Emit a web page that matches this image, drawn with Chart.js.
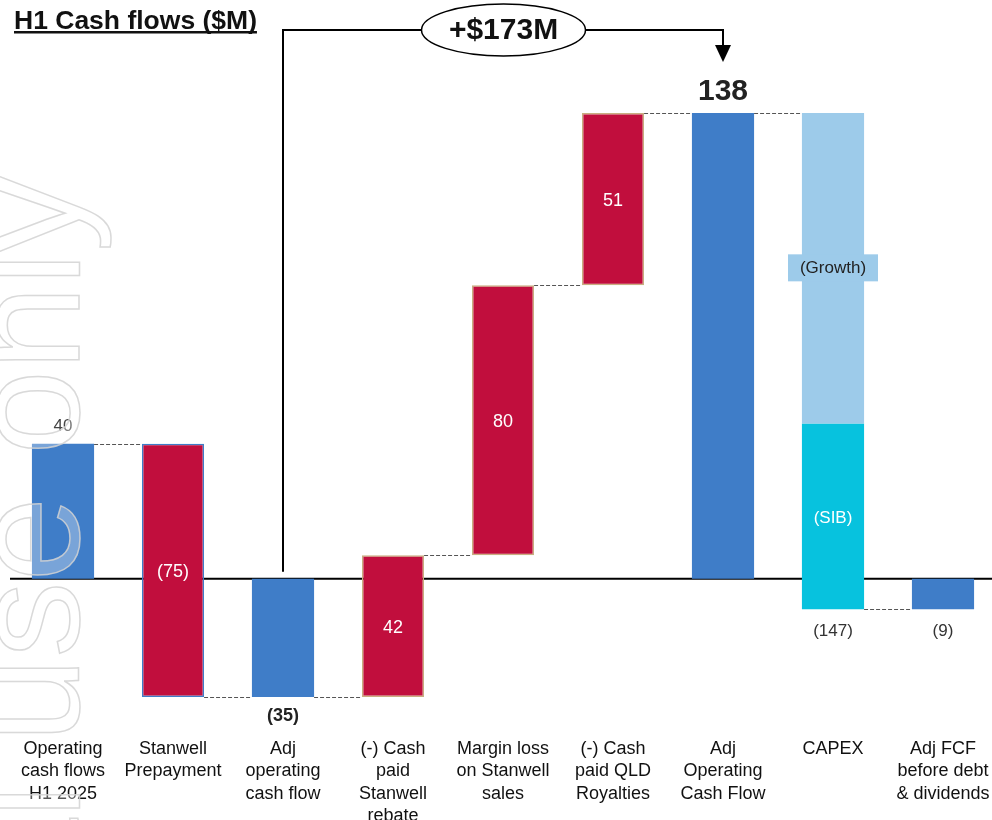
<!DOCTYPE html>
<html>
<head>
<meta charset="utf-8">
<script src="https://cdn.jsdelivr.net/npm/chart.js@4"></script>
<style>
  html, body { margin: 0; padding: 0; overflow: hidden; background: #fff; }
  #myChart { display: block; }
</style>
</head>
<body>
<canvas id="myChart" width="1000" height="820"></canvas>
<script>
const categories = [
    ['Operating', 'cash flows', 'H1 2025'],
    ['Stanwell', 'Prepayment'],
    ['Adj', 'operating', 'cash flow'],
    ['(-) Cash', 'paid', 'Stanwell', 'rebate'],
    ['Margin loss', 'on Stanwell', 'sales'],
    ['(-) Cash', 'paid QLD', 'Royalties'],
    ['Adj', 'Operating', 'Cash Flow'],
    ['CAPEX'],
    ['Adj FCF', 'before debt', '& dividends']
];
const amounts = [40, -75, -35, 42, 80, 51, 138, -147, -9];
const isSubtotal = [true, false, true, false, false, false, true, false, true];
const capexGrowth = -92;
const capexSib = -55;
const capexIndex = 7;
const title = 'H1 Cash flows ($M)';

const BLUE = '#3F7DC8';
const RED = '#C10E3D';
const TAN = '#C9AE80';
const GROWTH = '#9DCBEA';
const SIB = '#07C2DE';
const FONT = '"Liberation Sans", Arial, sans-serif';

// build floating ranges from the running total
let running = 0;
const ranges = [];
const levels = [];
amounts.forEach((v, i) => {
    if (isSubtotal[i]) {
        ranges.push([0, v]);
        running = v;
    } else {
        ranges.push([running, running + v]);
        running += v;
    }
    levels.push(running);
});
const capexTop = ranges[capexIndex][0];
const growthRange = [capexTop, capexTop + capexGrowth];
const sibRange = [capexTop + capexGrowth, capexTop + capexGrowth + capexSib];
const mainData = ranges.map((r, i) => i === capexIndex ? growthRange : r);
const sibData = ranges.map((r, i) => i === capexIndex ? sibRange : null);
const bridge = amounts[6] - amounts[2];

const fillColors = amounts.map((v, i) => {
    if (i === capexIndex) return GROWTH;
    return isSubtotal[i] ? BLUE : RED;
});
const borderColors = amounts.map((v, i) => (i === 1 ? BLUE : TAN));
const borderWidths = amounts.map((v, i) => (!isSubtotal[i] && i !== capexIndex ? 1.5 : 0));

const fmt = v => (v < 0 ? '(' + Math.abs(v) + ')' : String(v));

const overlay = {
    id: 'overlay',
    beforeDatasetsDraw(chart) {
        const { ctx, scales: { x, y } } = chart;
        const meta = chart.getDatasetMeta(0);
        ctx.save();
        // zero line
        ctx.strokeStyle = '#000';
        ctx.lineWidth = 2;
        ctx.beginPath();
        ctx.moveTo(10, y.getPixelForValue(0));
        ctx.lineTo(1000, y.getPixelForValue(0));
        ctx.stroke();
        // dashed connectors
        ctx.strokeStyle = '#555';
        ctx.lineWidth = 1;
        ctx.setLineDash([4, 2]);
        for (let i = 0; i < levels.length - 1; i++) {
            const a = meta.data[i], b = meta.data[i + 1];
            const py = Math.round(y.getPixelForValue(levels[i])) + 0.5;
            ctx.beginPath();
            ctx.moveTo(a.x + a.width / 2, py);
            ctx.lineTo(b.x - b.width / 2, py);
            ctx.stroke();
        }
        ctx.restore();
    },
    afterDatasetsDraw(chart) {
        const { ctx, scales: { x, y } } = chart;
        const meta = chart.getDatasetMeta(0);
        ctx.save();
        ctx.textAlign = 'center';
        ctx.textBaseline = 'middle';

        // value labels
        amounts.forEach((v, i) => {
            const cx = meta.data[i].x;
            const r = ranges[i];
            if (i === capexIndex) {
                ctx.font = '17px ' + FONT;
                ctx.fillStyle = '#333';
                ctx.fillText(fmt(v), cx, y.getPixelForValue(r[1]) + 22);
                return;
            }
            if (!isSubtotal[i]) {
                ctx.font = '18px ' + FONT;
                ctx.fillStyle = '#fff';
                ctx.fillText(fmt(v), cx, y.getPixelForValue((r[0] + r[1]) / 2) + 2);
                return;
            }
            if (i === 6) {
                ctx.font = 'bold 30px ' + FONT;
                ctx.fillStyle = '#222';
                ctx.fillText(fmt(v), cx, y.getPixelForValue(v) - 21);
            } else if (i === 2) {
                ctx.font = 'bold 18px ' + FONT;
                ctx.fillStyle = '#222';
                ctx.fillText(fmt(v), cx, y.getPixelForValue(v) + 19);
            } else if (v >= 0) {
                ctx.font = '17px ' + FONT;
                ctx.fillStyle = '#444';
                ctx.fillText(fmt(v), cx, y.getPixelForValue(v) - 17);
            } else {
                ctx.font = '17px ' + FONT;
                ctx.fillStyle = '#333';
                ctx.fillText(fmt(v), cx, y.getPixelForValue(v) + 22);
            }
        });

        // capex split labels
        const cx7 = meta.data[capexIndex].x;
        const gy = y.getPixelForValue((growthRange[0] + growthRange[1]) / 2);
        ctx.font = '17px ' + FONT;
        ctx.fillStyle = GROWTH;
        ctx.fillRect(cx7 - 45, gy - 14, 90, 27);
        ctx.fillStyle = '#222';
        ctx.fillText('(Growth)', cx7, gy);
        ctx.fillStyle = '#fff';
        ctx.fillText('(SIB)', cx7, y.getPixelForValue((sibRange[0] + sibRange[1]) / 2) + 2);

        // category labels
        ctx.font = '18px ' + FONT;
        ctx.fillStyle = '#111';
        ctx.textBaseline = 'alphabetic';
        categories.forEach((lines, i) => {
            lines.forEach((t, j) => ctx.fillText(t, meta.data[i].x, 754 + j * 22.3));
        });

        // title
        ctx.textAlign = 'left';
        ctx.font = 'bold 26.5px ' + FONT;
        ctx.fillStyle = '#111';
        ctx.fillText(title, 14, 29);
        const tw = ctx.measureText(title).width;
        ctx.fillRect(14, 31, tw, 2.5);

        // bridge bracket
        const x0 = meta.data[2].x, x1 = meta.data[6].x;
        const ey = 30, ecx = (x0 + x1) / 2 + 0.5, rx = 82, ry = 26;
        ctx.strokeStyle = '#000';
        ctx.lineWidth = 2;
        ctx.beginPath();
        ctx.moveTo(x0, y.getPixelForValue(0) - 7);
        ctx.lineTo(x0, ey);
        ctx.lineTo(ecx - rx, ey);
        ctx.moveTo(ecx + rx, ey);
        ctx.lineTo(x1, ey);
        ctx.lineTo(x1, 47);
        ctx.stroke();
        ctx.fillStyle = '#000';
        ctx.beginPath();
        ctx.moveTo(x1 - 8, 45);
        ctx.lineTo(x1 + 8, 45);
        ctx.lineTo(x1, 62);
        ctx.closePath();
        ctx.fill();
        ctx.lineWidth = 1.5;
        ctx.beginPath();
        ctx.ellipse(ecx, ey, rx, ry, 0, 0, Math.PI * 2);
        ctx.fillStyle = '#fff';
        ctx.fill();
        ctx.stroke();
        ctx.textAlign = 'center';
        ctx.textBaseline = 'middle';
        ctx.font = 'bold 30px ' + FONT;
        ctx.fillStyle = '#111';
        ctx.fillText('+$' + bridge + 'M', ecx, ey + 1);

        // watermark
        ctx.translate(79, 176);
        ctx.rotate(-Math.PI / 2);
        ctx.textAlign = 'right';
        ctx.textBaseline = 'alphabetic';
        ctx.font = '152px ' + FONT;
        ctx.fillStyle = 'rgba(255,255,255,0.3)';
        ctx.fillText('For personal use only', 0, 0);
        ctx.strokeStyle = 'rgba(210,210,210,0.85)';
        ctx.lineWidth = 1.5;
        ctx.strokeText('For personal use only', 0, 0);
        ctx.restore();
    }
};

const config = {
    type: 'bar',
    data: {
        labels: categories.map(c => c.join(' ')),
        datasets: [{
            data: mainData,
            backgroundColor: fillColors,
            borderColor: borderColors,
            borderWidth: borderWidths,
            borderSkipped: false,
            categoryPercentage: 1,
            barPercentage: 0.565
        }, {
            data: sibData,
            backgroundColor: SIB,
            borderWidth: 0,
            categoryPercentage: 1,
            barPercentage: 0.565
        }]
    },
    options: {
        responsive: false,
        animation: false,
        layout: { padding: { left: 8, right: 2, top: 22, bottom: 5 } },
        plugins: { legend: { display: false }, tooltip: { enabled: false } },
        scales: {
            x: { display: false, stacked: true },
            y: { display: false, min: -70, max: 165 }
        }
    },
    plugins: [overlay]
};

// Render the chart
const myChart = new Chart(document.getElementById('myChart'), config);
</script>
</body>
</html>
